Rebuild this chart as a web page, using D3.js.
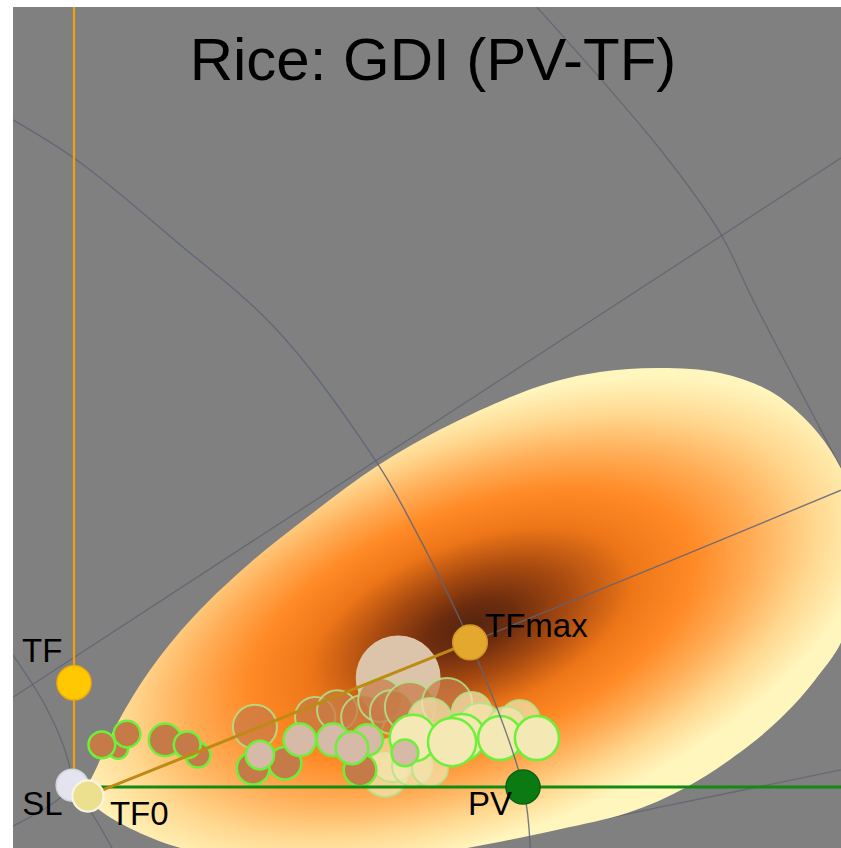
<!DOCTYPE html>
<html>
<head>
<meta charset="utf-8">
<script src="https://cdn.jsdelivr.net/npm/d3@7"></script>
<style>
  html, body { margin: 0; padding: 0; background: #ffffff; }
  svg { display: block; }
</style>
</head>
<body>
<script>
// ---- Index space: SL at the origin, PV at (1, 0) ----
const landmarkNames = ["SL", "TF", "TF0", "TFmax", "PV"];
const landmarkX     = [-0.004, 0.000, 0.031, 0.882, 1.000];
const landmarkY     = [ 0.004, 0.232, -0.020, 0.322, 0.000];

// Density region of the accessions (outline in index space)
const regionX = [0.027, 0.053, 0.098, 0.169, 0.263, 0.392, 0.526, 0.675, 0.837, 1.038, 1.171, 1.305, 1.439,
                 1.550, 1.628, 1.684, 1.733, 1.751, 1.735, 1.708, 1.650, 1.584, 1.499, 1.365, 1.232, 1.082,
                 0.875, 0.682, 0.503, 0.336, 0.203, 0.102, 0.051];
const regionY = [-0.018, 0.049, 0.145, 0.260, 0.376, 0.499, 0.606, 0.715, 0.807, 0.893, 0.924, 0.933, 0.922,
                 0.882, 0.820, 0.751, 0.650, 0.528, 0.416, 0.321, 0.238, 0.163, 0.089, 0.000, -0.058, -0.094,
                 -0.136, -0.167, -0.176, -0.158, -0.125, -0.080, -0.047];
const densityPeak = [0.885, 0.358];
const densitySpread = [0.95, 0.47];
const densityTilt = -21;

// Accessions: [x, y, sample size]
const largePool   = [[0.722, 0.243, 364]];
const distantBrown = [[0.403, 0.134, 100], [0.537, 0.156, 83], [0.586, 0.171, 83], [0.644, 0.156, 100],
                      [0.682, 0.194, 100], [0.708, 0.167, 100], [0.748, 0.178, 129], [0.831, 0.187, 129]];
const distantPale  = [[0.886, 0.167, 83], [0.793, 0.149, 100], [0.904, 0.138, 100], [0.993, 0.149, 83],
                      [0.693, 0.027, 100], [0.710, 0.060, 100], [0.753, 0.047, 83], [0.793, 0.042, 67],
                      [0.964, 0.134, 83]];
const brownAcc = [[0.098, 0.085, 21], [0.062, 0.094, 37], [0.118, 0.118, 37], [0.203, 0.105, 55],
                  [0.276, 0.071, 32], [0.252, 0.094, 37], [0.399, 0.042, 55], [0.470, 0.053, 55],
                  [0.637, 0.038, 55]];
const tanAcc   = [[0.414, 0.071, 42], [0.503, 0.105, 55], [0.577, 0.105, 55], [0.653, 0.105, 50],
                  [0.619, 0.087, 55]];
const paleAcc  = [[0.755, 0.109, 112], [0.864, 0.111, 112], [0.842, 0.100, 120], [0.949, 0.109, 100],
                  [1.031, 0.109, 100]];
const tanTop   = [[0.737, 0.076, 37]];

// Reference grid curves (index space)
const gridBack = [
  [[-0.136, 0.200], [1.708, 1.401]],
  [[1.031, 1.737], [1.312, 1.412], [1.439, 1.234], [1.512, 1.085], [1.617, 0.884], [1.708, 0.710]],
  [[1.071, -0.094], [1.305, -0.045], [1.708, 0.038]],
  [[-0.136, 0.294], [-0.065, 0.183], [-0.020, 0.082], [0, 0]],
  [[0, 0], [0.042, -0.062], [0.085, -0.136]],
  [[-0.136, -0.087], [-0.060, -0.045], [0, 0]]
];
const gridFront = [
  [[-0.136, 1.486], [0.007, 1.396], [0.229, 1.214], [0.452, 1.018], [0.675, 0.722], [0.748, 0.595],
   [0.882, 0.323], [1.000, 0.000], [1.016, -0.136]],
  [[0.882, 0.322], [1.300, 0.492], [1.708, 0.661]]
];

const title = "Rice: GDI (PV-TF)";

// ---- Layout ----
const W = 841, H = 848;
const panel = {x: 13, y: 7, w: W - 13, h: H - 7};

const x = d3.scaleLinear().domain([0, 1]).range([74, 523]);
const y = d3.scaleLinear().domain([0, 1]).range([787, 338]);
const r = d3.scaleSqrt().domain([0, 100]).range([0, 22]);
const unit = x(1) - x(0);

const svg = d3.select("body").append("svg")
  .attr("width", W).attr("height", H)
  .attr("viewBox", `0 0 ${W} ${H}`);

const defs = svg.append("defs");
defs.append("clipPath").attr("id", "panel-clip")
  .append("rect").attr("x", panel.x).attr("y", panel.y).attr("width", panel.w).attr("height", panel.h);

const grad = defs.append("radialGradient")
  .attr("id", "density")
  .attr("gradientUnits", "userSpaceOnUse")
  .attr("cx", 0).attr("cy", 0).attr("r", 1)
  .attr("gradientTransform",
    `translate(${x(densityPeak[0])},${y(densityPeak[1])}) rotate(${densityTilt}) scale(${densitySpread[0] * unit},${densitySpread[1] * unit})`);
[
  [0.00, "#552410"], [0.10, "#6c2c0e"], [0.24, "#a84a10"], [0.40, "#ee7618"],
  [0.55, "#ff8a26"], [0.70, "#ffae58"], [0.85, "#ffd890"], [1.00, "#fff6be"]
].forEach(([o, c]) => grad.append("stop").attr("offset", o).attr("stop-color", c));

svg.append("rect").attr("x", panel.x).attr("y", panel.y).attr("width", panel.w).attr("height", panel.h)
  .attr("fill", "#808080");

const g = svg.append("g").attr("clip-path", "url(#panel-clip)");

const curve = d3.line().x(d => x(d[0])).y(d => y(d[1])).curve(d3.curveCatmullRom.alpha(0.5));

// grid curves lying behind the density region
g.append("g").selectAll("path").data(gridBack).join("path")
  .attr("d", curve).attr("fill", "none")
  .attr("stroke", "#5e6070").attr("stroke-width", 1.3).attr("stroke-opacity", 0.75);

// density region
const regionPts = regionX.map((v, i) => [v, regionY[i]]);
g.append("path")
  .attr("d", d3.line().x(d => x(d[0])).y(d => y(d[1])).curve(d3.curveCatmullRomClosed.alpha(0.5))(regionPts))
  .attr("fill", "url(#density)");

// accessions
function bubbles(data, fill, stroke, opts = {}) {
  g.append("g").selectAll("circle").data(data).join("circle")
    .attr("cx", d => x(d[0])).attr("cy", d => y(d[1])).attr("r", d => r(d[2]))
    .attr("fill", fill).attr("fill-opacity", opts.fillOpacity ?? 1)
    .attr("stroke", stroke).attr("stroke-width", opts.strokeWidth ?? 2.5)
    .attr("stroke-opacity", opts.strokeOpacity ?? 1);
}
bubbles(largePool, "#dcc4aa", "#e6d2b2", {strokeWidth: 1, strokeOpacity: 0.8});
bubbles(distantBrown, "#c87a48", "#b0e488", {fillOpacity: 0.72, strokeWidth: 2, strokeOpacity: 0.85});
bubbles(distantPale, "#f2e6b2", "#b0e488", {fillOpacity: 0.72, strokeWidth: 2, strokeOpacity: 0.85});
bubbles(brownAcc, "#c67a48", "#6cf03a");
bubbles(tanAcc, "#d6b9a6", "#6cf03a");
bubbles(paleAcc, "#f4e9b4", "#6cf03a");
bubbles(tanTop, "#d6b9a6", "#6cf03a");

// grid curves drawn over the region
g.append("g").selectAll("path").data(gridFront).join("path")
  .attr("d", curve).attr("fill", "none")
  .attr("stroke", "#5e6478").attr("stroke-width", 1.4).attr("stroke-opacity", 0.85);

const lm = Object.fromEntries(landmarkNames.map((n, i) => [n, [landmarkX[i], landmarkY[i]]]));

// TF axis (vertical) and PV axis (horizontal)
g.append("line")
  .attr("x1", x(lm.TF[0])).attr("x2", x(lm.TF[0]))
  .attr("y1", panel.y).attr("y2", y(lm.SL[1]))
  .attr("stroke", "#f0a20c").attr("stroke-width", 2.2);
g.append("line")
  .attr("x1", x(lm.TF0[0])).attr("x2", panel.x + panel.w)
  .attr("y1", y(lm.PV[1])).attr("y2", y(lm.PV[1]))
  .attr("stroke", "#138a13").attr("stroke-width", 3.2);
// TF0 -> TFmax
g.append("line")
  .attr("x1", x(lm.TF0[0])).attr("y1", y(lm.TF0[1]))
  .attr("x2", x(lm.TFmax[0])).attr("y2", y(lm.TFmax[1]))
  .attr("stroke", "#bf8a14").attr("stroke-width", 3);

// landmark points
const pointStyle = {
  SL:    {fill: "#e4e4ee", stroke: "#d2d2de", w: 1.5, size: 53},
  TF0:   {fill: "#ece08f", stroke: "#f8f4e4", w: 2.2, size: 50},
  TF:    {fill: "#ffc800", stroke: "#f2ad00", w: 1.5, size: 60},
  TFmax: {fill: "#e4a82e", stroke: "#cf9422", w: 1.5, size: 62},
  PV:    {fill: "#0c7a12", stroke: "#0a6210", w: 1.5, size: 60}
};
["SL", "TF0", "TF", "TFmax", "PV"].forEach(n => {
  const s = pointStyle[n];
  g.append("circle")
    .attr("cx", x(lm[n][0])).attr("cy", y(lm[n][1])).attr("r", r(s.size))
    .attr("fill", s.fill).attr("stroke", s.stroke).attr("stroke-width", s.w);
});

// point labels
const labelFont = "'Liberation Sans', Arial, Helvetica, sans-serif";
const labels = [
  {name: "TF",    dx: -52, dy: -21},
  {name: "TFmax", dx: 15,  dy: -5},
  {name: "SL",    dx: -50, dy: 30},
  {name: "TF0",   dx: 22,  dy: 29},
  {name: "PV",    dx: -55, dy: 28}
];
svg.append("g").selectAll("text").data(labels).join("text")
  .attr("x", d => x(lm[d.name][0]) + d.dx)
  .attr("y", d => y(lm[d.name][1]) + d.dy)
  .attr("font-family", labelFont).attr("font-size", 33).attr("fill", "#000")
  .text(d => d.name);

// title
svg.append("text")
  .attr("x", 433).attr("y", 80)
  .attr("text-anchor", "middle")
  .attr("font-family", labelFont).attr("font-size", 60).attr("fill", "#000")
  .text(title);
</script>
</body>
</html>
